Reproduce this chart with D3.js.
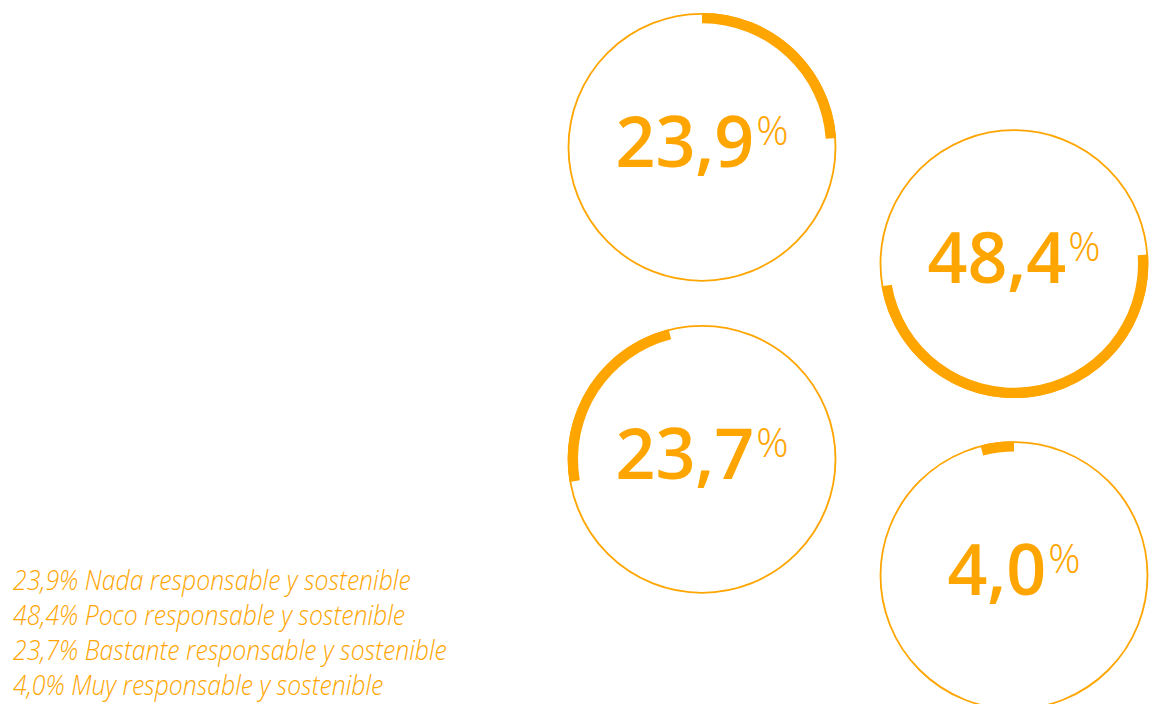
<!DOCTYPE html>
<html><head><meta charset="utf-8">
<script src="https://cdn.jsdelivr.net/npm/d3@7"></script>
<style>html,body{margin:0;padding:0;background:#fff;}</style>
</head><body>
<svg id="chart" width="1149" height="704"></svg>
<script>
const categories = ["Nada responsable y sostenible","Poco responsable y sostenible","Bastante responsable y sostenible","Muy responsable y sostenible"];
const values = [23.9, 48.4, 23.7, 4.0];
const valueLabels = ["23,9","48,4","23,7","4,0"];

const color = "#ffa500";
const svg = d3.select("#chart");
const R = 133.5;
const centers = [[702,147.3],[1014,263.7],[702,459.3],[1014,575.6]];

const pie = d3.pie().sort(null).value(d => d)(values);
const arc = d3.arc().innerRadius(R - 9.5).outerRadius(R + 0.8);

pie.forEach((p, i) => {
  const g = svg.append("g").attr("transform", `translate(${centers[i][0]},${centers[i][1]})`);
  g.append("circle").attr("r", R).attr("fill","none").attr("stroke",color).attr("stroke-width",1.8);
  g.append("path").attr("d", arc(p)).attr("fill", color);
  const t = g.append("text").attr("y", 19.5).attr("fill", color)
     .attr("font-family","'Open Sans SemiBold','Open Sans', sans-serif");
  t.append("tspan").attr("font-size",70).attr("font-weight",600).text(valueLabels[i]);
  t.append("tspan").attr("font-family","'Open Sans Light','Open Sans', sans-serif")
     .attr("font-size",40).attr("font-weight",300).attr("dx",2).attr("dy",-22).text("%");
  const w = t.node().getBBox().width;
  t.attr("x", -w/2);
  t.selectAll("tspan").filter((d,j)=>j===0).attr("x", -w/2);
});

const legend = svg.append("g").attr("transform","translate(13,0)");
values.forEach((v,i) => {
  legend.append("text")
    .attr("transform", `translate(0,${590 + i*35}) scale(0.885,1)`)
    .attr("fill", color)
    .attr("font-family","'Open Sans', sans-serif")
    .attr("font-style","italic").attr("font-weight",300).attr("font-size",28)
    .text(`${valueLabels[i]}% ${categories[i]}`);
});
</script>
</body></html>
